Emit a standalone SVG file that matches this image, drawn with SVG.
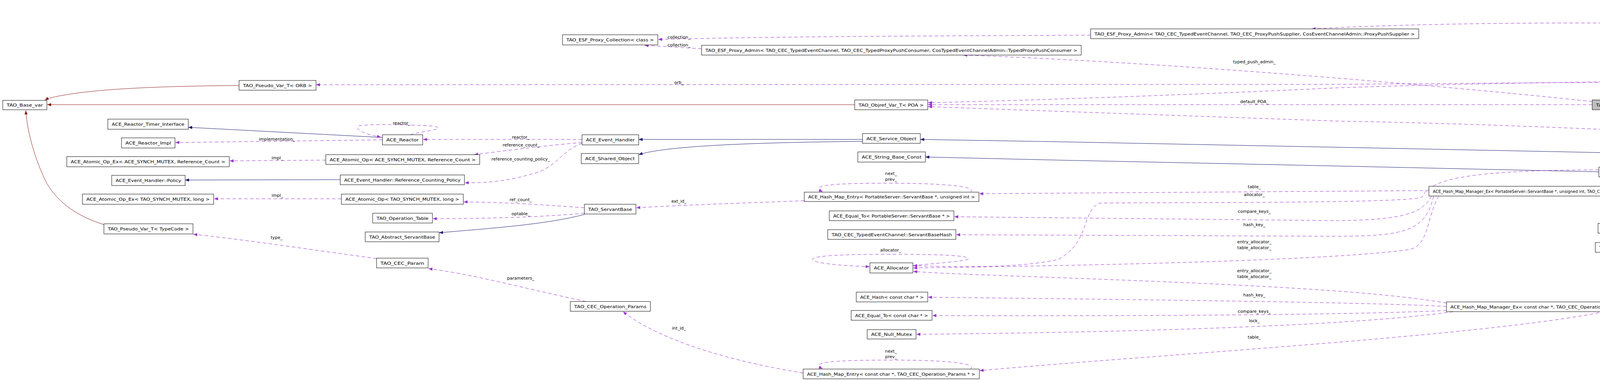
<svg xmlns="http://www.w3.org/2000/svg" width="5539" height="973" viewBox="0 0 5539 973">
<style>
.n rect{fill:#fff;stroke:#000;stroke-width:1}
.n text,.l{font-family:"DejaVu Sans",sans-serif;font-size:11px;fill:#000;text-anchor:middle}
.u{fill:none;stroke:#9a32cd;stroke-width:1;stroke-dasharray:9,6;marker-end:url(#au)}
.i{fill:none;stroke:#191970;stroke-width:1;marker-end:url(#ai)}
.t{fill:none;stroke:#8b1a1a;stroke-width:1;marker-end:url(#at)}
</style>
<defs>
<marker id="au" viewBox="0 0 10 8" refX="10" refY="4" markerWidth="10" markerHeight="8" markerUnits="userSpaceOnUse" orient="auto"><path d="M0,0L10,4L0,8z" fill="#9a32cd"/></marker>
<marker id="ai" viewBox="0 0 10 8" refX="10" refY="4" markerWidth="10" markerHeight="8" markerUnits="userSpaceOnUse" orient="auto"><path d="M0,0L10,4L0,8z" fill="#191970"/></marker>
<marker id="at" viewBox="0 0 10 8" refX="10" refY="4" markerWidth="10" markerHeight="8" markerUnits="userSpaceOnUse" orient="auto"><path d="M0,0L10,4L0,8z" fill="#8b1a1a"/></marker>
</defs>
<rect width="5539" height="973" fill="#fff"/>
<g id="edges">
<path class="t" d="M2188,268 L121,268"/>
<path class="t" d="M612,219 C450,220 300,225 200,238 C150,245 125,250 115,257"/>
<path class="t" d="M266,575 C200,555 150,520 120,470 C90,410 70,340 66,283"/>
<path class="i" d="M979,352 L482,326"/>
<path class="i" d="M871,460 L474,461"/>
<path class="i" d="M2208,357 L1635,357"/>
<path class="i" d="M2208,362 C1900,365 1700,375 1635,396"/>
<path class="i" d="M1496,549 C1400,575 1250,585 1124,596"/>
<path class="i" d="M4114,391 L3420,377 L2710,363 L2356,357"/>
<path class="i" d="M4093,440 L3420,425 L2710,410 L2369,402"/>
<path class="u" d="M5307,200 C4900,198 4500,205 4200,210 L3420,216 L809,217"/>
<path class="u" d="M2792,90 C2400,92 2000,93 1685,101"/>
<path class="u" d="M1796,125 C1750,122 1700,119 1650,116"/>
<path class="u" d="M5395,189 C5300,150 5100,110 4800,82 C4400,50 3700,55 3358,74"/>
<path class="u" d="M4076,260 C3700,220 3000,160 2466,141"/>
<path class="u" d="M4990,366 C4920,290 4800,215 4600,208 C4200,205 3700,215 3420,225 C3000,245 2600,258 2376,263"/>
<path class="u" d="M4076,268 L2376,268"/>
<path class="u" d="M4896,375 C4600,355 4000,320 3420,310 C3000,295 2700,285 2376,273"/>
<path class="u" d="M4288,262 C4600,250 4900,262 4985,368"/>
<path class="u" d="M4990,369 C4900,310 4600,285 4289,270"/>
<path class="u" d="M5040,369 C5150,320 5300,240 5380,216"/>
<path class="u" d="M5412,216 C5320,320 5200,380 5108,383"/>
<path class="u" d="M4896,378 C4700,385 4500,390 4251,391"/>
<path class="u" d="M4900,394 C4800,420 4600,445 4272,445"/>
<path class="u" d="M4910,394 C4830,450 4720,490 4640,505 L4311,504"/>
<path class="u" d="M4920,394 C4800,480 4600,540 4265,540"/>
<path class="u" d="M4930,394 C4820,530 4600,590 4275,590"/>
<path class="u" d="M4945,394 C4850,600 4700,690 4500,685 C4400,680 4300,660 4235,647"/>
<path class="u" d="M4960,394 C4920,600 4750,770 4600,800 L4284,799"/>
<path class="u" d="M3658,488 L2507,496"/>
<path class="u" d="M3665,502 C3640,545 3600,563 3420,565 L2443,555"/>
<path class="u" d="M3670,502 C3650,590 3600,605 3420,605 L2448,601"/>
<path class="u" d="M3683,502 C3650,560 3660,635 3600,640 C3400,667 2800,680 2338,686"/>
<path class="u" d="M4093,435 C3700,435 3660,470 3640,505 C3600,521 3000,518 2814,520 C2770,540 2790,620 2710,664 C2600,690 2400,682 2338,680"/>
<path class="u" d="M3703,776 C3550,750 3300,732 2710,711 C2500,703 2400,700 2338,695"/>
<path class="u" d="M3703,785 C3550,775 3000,768 2376,761"/>
<path class="u" d="M3703,795 C3500,805 3000,810 2387,808"/>
<path class="u" d="M3720,798 C3500,830 3000,850 2346,856"/>
<path class="u" d="M4108,798 C3800,860 3000,905 2508,949"/>
<path class="u" d="M2484,492 C2500,480 2450,470 2280,469 C2110,469 2075,476 2106,491"/>
<path class="u" d="M2059,514 C1900,520 1750,525 1629,532"/>
<path class="u" d="M2484,945 C2500,933 2450,922 2280,922 C2110,922 2075,930 2106,944"/>
<path class="u" d="M2056,955 C1900,930 1700,880 1595,798"/>
<path class="u" d="M2337,680 C2420,672 2480,668 2479,662 C2478,654 2400,651 2280,651 C2130,651 2078,657 2080,664 C2082,674 2150,680 2226,683"/>
<path class="u" d="M1496,532 C1400,525 1300,518 1187,517"/>
<path class="u" d="M1496,546 C1400,555 1250,560 1108,560"/>
<path class="u" d="M964,662 C800,640 600,610 495,600"/>
<path class="u" d="M1500,772 C1350,740 1200,700 1097,688"/>
<path class="u" d="M1490,357 L1083,357"/>
<path class="u" d="M1490,365 C1400,372 1300,385 1214,396"/>
<path class="u" d="M1490,367 C1440,385 1430,420 1380,440 C1300,465 1250,468 1190,468"/>
<path class="u" d="M979,358 L449,365"/>
<path class="u" d="M1050,345 C1080,335 1160,330 1100,322 C1000,318 950,318 919,322 C905,330 930,343 975,351"/>
<path class="u" d="M834,410 L588,412"/>
<path class="u" d="M874,509 L548,509"/>
<text class="l" x="709" y="360">implementation_</text>
<text class="l" x="1028" y="319">reactor_</text>
<text class="l" x="1333" y="355">reactor_</text>
<text class="l" x="1334" y="375">reference_count_</text>
<text class="l" x="1333" y="411">reference_counting_policy_</text>
<text class="l" x="710" y="408">impl_</text>
<text class="l" x="710" y="504">impl_</text>
<text class="l" x="1333" y="515">ref_count_</text>
<text class="l" x="1333" y="551">optable_</text>
<text class="l" x="1738" y="519">ext_id_</text>
<text class="l" x="708" y="612">type_</text>
<text class="l" x="1333" y="716">parameters_</text>
<text class="l" x="1738" y="844">int_id_</text>
<text class="l" x="1738" y="99">collection_</text>
<text class="l" x="1738" y="119">collection_</text>
<text class="l" x="1738" y="215">orb_</text>
<text class="l" x="2281" y="448">next_</text>
<text class="l" x="2281" y="463">prev_</text>
<text class="l" x="2281" y="903">next_</text>
<text class="l" x="2281" y="917">prev_</text>
<text class="l" x="2280" y="644">allocator_</text>
<text class="l" x="3211" y="162">typed_push_admin_</text>
<text class="l" x="3211" y="264">default_POA_</text>
<text class="l" x="3211" y="482">table_</text>
<text class="l" x="3211" y="502">allocator_</text>
<text class="l" x="3211" y="545">compare_keys_</text>
<text class="l" x="3211" y="579">hash_key_</text>
<text class="l" x="3211" y="623">entry_allocator_</text>
<text class="l" x="3211" y="638">table_allocator_</text>
<text class="l" x="3211" y="697">entry_allocator_</text>
<text class="l" x="3211" y="712">table_allocator_</text>
<text class="l" x="3211" y="759">hash_key_</text>
<text class="l" x="3211" y="801">compare_keys_</text>
<text class="l" x="3211" y="825">lock_</text>
<text class="l" x="3211" y="867">table_</text>
<text class="l" x="4181" y="303">typed_consumer_poa_</text>
<text class="l" x="4181" y="317">typed_supplier_poa_</text>
<text class="l" x="4800" y="72">typed_push_admin_</text>
<text class="l" x="4808" y="195">default_POA_</text>
<text class="l" x="4800" y="257">typed_event_channel_</text>
<text class="l" x="4800" y="299">typed_supplier_admin_</text>
<text class="l" x="4806" y="380">factory_</text>
<text class="l" x="4801" y="402">uses_interface_</text>
<text class="l" x="4801" y="417">supported_interface_</text>
<text class="l" x="4801" y="456">retry_map_</text>
<text class="l" x="4801" y="506">dispatching_</text>
<text class="l" x="4801" y="553">supplier_control_</text>
<text class="l" x="4800" y="602">consumer_control_</text>
<text class="l" x="4801" y="676">interface_description_</text>
<text class="l" x="5206" y="262">typed_consumer_admin_</text>
<text class="l" x="5206" y="340">typed_event_channel_</text>
</g>
<g id="n1" class="n"><rect x="7" y="257" width="113" height="24"/><text x="63.5" y="273" textLength="93" lengthAdjust="spacingAndGlyphs">TAO_Base_var</text></g>
<g id="n2" class="n"><rect x="612" y="206" width="197" height="25"/><text x="710.5" y="222.5" textLength="177" lengthAdjust="spacingAndGlyphs">TAO_Pseudo_Var_T&lt; ORB &gt;</text></g>
<g id="n3" class="n"><rect x="276" y="305" width="206" height="26"/><text x="379" y="322" textLength="186" lengthAdjust="spacingAndGlyphs">ACE_Reactor_Timer_Interface</text></g>
<g id="n4" class="n"><rect x="311" y="353" width="137" height="26"/><text x="379.5" y="370" textLength="117" lengthAdjust="spacingAndGlyphs">ACE_Reactor_Impl</text></g>
<g id="n5" class="n"><rect x="171" y="401" width="416" height="26"/><text x="379" y="418" textLength="396" lengthAdjust="spacingAndGlyphs">ACE_Atomic_Op_Ex&lt; ACE_SYNCH_MUTEX, Reference_Count &gt;</text></g>
<g id="n6" class="n"><rect x="286" y="449" width="188" height="26"/><text x="380" y="466" textLength="168" lengthAdjust="spacingAndGlyphs">ACE_Event_Handler::Policy</text></g>
<g id="n7" class="n"><rect x="211" y="497" width="336" height="26"/><text x="379" y="514" textLength="316" lengthAdjust="spacingAndGlyphs">ACE_Atomic_Op_Ex&lt; TAO_SYNCH_MUTEX, long &gt;</text></g>
<g id="n8" class="n"><rect x="266" y="573" width="228" height="26"/><text x="380" y="590" textLength="208" lengthAdjust="spacingAndGlyphs">TAO_Pseudo_Var_T&lt; TypeCode &gt;</text></g>
<g id="n9" class="n"><rect x="979" y="345" width="103" height="26"/><text x="1030.5" y="362" textLength="83" lengthAdjust="spacingAndGlyphs">ACE_Reactor</text></g>
<g id="n10" class="n"><rect x="834" y="396" width="394" height="25"/><text x="1031" y="412.5" textLength="374" lengthAdjust="spacingAndGlyphs">ACE_Atomic_Op&lt; ACE_SYNCH_MUTEX, Reference_Count &gt;</text></g>
<g id="n11" class="n"><rect x="871" y="448" width="318" height="25"/><text x="1030" y="464.5" textLength="298" lengthAdjust="spacingAndGlyphs">ACE_Event_Handler::Reference_Counting_Policy</text></g>
<g id="n12" class="n"><rect x="874" y="497" width="312" height="26"/><text x="1030" y="514" textLength="292" lengthAdjust="spacingAndGlyphs">ACE_Atomic_Op&lt; TAO_SYNCH_MUTEX, long &gt;</text></g>
<g id="n13" class="n"><rect x="954" y="546" width="153" height="25"/><text x="1030.5" y="562.5" textLength="133" lengthAdjust="spacingAndGlyphs">TAO_Operation_Table</text></g>
<g id="n14" class="n"><rect x="935" y="594" width="189" height="25"/><text x="1029.5" y="610.5" textLength="169" lengthAdjust="spacingAndGlyphs">TAO_Abstract_ServantBase</text></g>
<g id="n15" class="n"><rect x="964" y="661" width="132" height="25"/><text x="1030" y="677.5" textLength="112" lengthAdjust="spacingAndGlyphs">TAO_CEC_Param</text></g>
<g id="n16" class="n"><rect x="1440" y="89" width="244" height="26"/><text x="1562" y="106" textLength="224" lengthAdjust="spacingAndGlyphs">TAO_ESF_Proxy_Collection&lt; class &gt;</text></g>
<g id="n17" class="n"><rect x="1796" y="116" width="972" height="25"/><text x="2282" y="132.5" textLength="952" lengthAdjust="spacingAndGlyphs">TAO_ESF_Proxy_Admin&lt; TAO_CEC_TypedEventChannel, TAO_CEC_TypedProxyPushConsumer, CosTypedEventChannelAdmin::TypedProxyPushConsumer &gt;</text></g>
<g id="n18" class="n"><rect x="1490" y="345" width="145" height="26"/><text x="1562.5" y="362" textLength="125" lengthAdjust="spacingAndGlyphs">ACE_Event_Handler</text></g>
<g id="n19" class="n"><rect x="1488" y="393" width="147" height="26"/><text x="1561.5" y="410" textLength="127" lengthAdjust="spacingAndGlyphs">ACE_Shared_Object</text></g>
<g id="n20" class="n"><rect x="1496" y="523" width="132" height="25"/><text x="1562" y="539.5" textLength="112" lengthAdjust="spacingAndGlyphs">TAO_ServantBase</text></g>
<g id="n21" class="n"><rect x="1460" y="772" width="205" height="25"/><text x="1562.5" y="788.5" textLength="185" lengthAdjust="spacingAndGlyphs">TAO_CEC_Operation_Params</text></g>
<g id="n22" class="n"><rect x="2188" y="256" width="187" height="25"/><text x="2281.5" y="272.5" textLength="167" lengthAdjust="spacingAndGlyphs">TAO_Objref_Var_T&lt; POA &gt;</text></g>
<g id="n23" class="n"><rect x="2208" y="342" width="148" height="25"/><text x="2282" y="358.5" textLength="128" lengthAdjust="spacingAndGlyphs">ACE_Service_Object</text></g>
<g id="n24" class="n"><rect x="2196" y="389" width="173" height="26"/><text x="2282.5" y="406" textLength="153" lengthAdjust="spacingAndGlyphs">ACE_String_Base_Const</text></g>
<g id="n25" class="n"><rect x="2059" y="492" width="447" height="24"/><text x="2282.5" y="508" textLength="427" lengthAdjust="spacingAndGlyphs">ACE_Hash_Map_Entry&lt; PortableServer::ServantBase *, unsigned int &gt;</text></g>
<g id="n26" class="n"><rect x="2123" y="540" width="319" height="25"/><text x="2282.5" y="556.5" textLength="299" lengthAdjust="spacingAndGlyphs">ACE_Equal_To&lt; PortableServer::ServantBase * &gt;</text></g>
<g id="n27" class="n"><rect x="2119" y="588" width="328" height="25"/><text x="2283" y="604.5" textLength="308" lengthAdjust="spacingAndGlyphs">TAO_CEC_TypedEventChannel::ServantBaseHash</text></g>
<g id="n28" class="n"><rect x="2227" y="673" width="110" height="26"/><text x="2282" y="690" textLength="90" lengthAdjust="spacingAndGlyphs">ACE_Allocator</text></g>
<g id="n29" class="n"><rect x="2192" y="748" width="183" height="25"/><text x="2283.5" y="764.5" textLength="163" lengthAdjust="spacingAndGlyphs">ACE_Hash&lt; const char * &gt;</text></g>
<g id="n30" class="n"><rect x="2179" y="795" width="207" height="25"/><text x="2282.5" y="811.5" textLength="187" lengthAdjust="spacingAndGlyphs">ACE_Equal_To&lt; const char * &gt;</text></g>
<g id="n31" class="n"><rect x="2220" y="844" width="125" height="24"/><text x="2282.5" y="860" textLength="105" lengthAdjust="spacingAndGlyphs">ACE_Null_Mutex</text></g>
<g id="n32" class="n"><rect x="2056" y="945" width="451" height="25"/><text x="2281.5" y="961.5" textLength="431" lengthAdjust="spacingAndGlyphs">ACE_Hash_Map_Entry&lt; const char *, TAO_CEC_Operation_Params * &gt;</text></g>
<g id="n33" class="n"><rect x="2792" y="74" width="840" height="25"/><text x="3212" y="90.5" textLength="820" lengthAdjust="spacingAndGlyphs">TAO_ESF_Proxy_Admin&lt; TAO_CEC_TypedEventChannel, TAO_CEC_ProxyPushSupplier, CosEventChannelAdmin::ProxyPushSupplier &gt;</text></g>
<g id="n34" class="n"><rect x="4076" y="256" width="212" height="25" style="fill:#bfbfbf"/><text x="4182" y="272.5" textLength="192" lengthAdjust="spacingAndGlyphs">TAO_CEC_TypedSupplierAdmin</text></g>
<g id="n35" class="n"><rect x="4114" y="380" width="136" height="25"/><text x="4182" y="396.5" textLength="116" lengthAdjust="spacingAndGlyphs">TAO_CEC_Factory</text></g>
<g id="n36" class="n"><rect x="4093" y="428" width="178" height="25"/><text x="4182" y="444.5" textLength="158" lengthAdjust="spacingAndGlyphs">ACE_String_Base&lt; char &gt;</text></g>
<g id="n37" class="n"><rect x="3658" y="477" width="1049" height="25"/><text x="4182.5" y="493.5" textLength="1029" lengthAdjust="spacingAndGlyphs">ACE_Hash_Map_Manager_Ex&lt; PortableServer::ServantBase *, unsigned int, TAO_CEC_TypedEventChannel::ServantBaseHash, ACE_Equal_To&lt; PortableServer::ServantBase * &gt;, TAO_SYNCH_MUTEX &gt;</text></g>
<g id="n38" class="n"><rect x="4102" y="525" width="162" height="24"/><text x="4183" y="541" textLength="142" lengthAdjust="spacingAndGlyphs">TAO_CEC_Dispatching</text></g>
<g id="n39" class="n"><rect x="4091" y="572" width="183" height="25"/><text x="4182.5" y="588.5" textLength="163" lengthAdjust="spacingAndGlyphs">TAO_CEC_SupplierControl</text></g>
<g id="n40" class="n"><rect x="4084" y="621" width="196" height="25"/><text x="4182" y="637.5" textLength="176" lengthAdjust="spacingAndGlyphs">TAO_CEC_ConsumerControl</text></g>
<g id="n41" class="n"><rect x="3703" y="773" width="961" height="25"/><text x="4183.5" y="789.5" textLength="941" lengthAdjust="spacingAndGlyphs">ACE_Hash_Map_Manager_Ex&lt; const char *, TAO_CEC_Operation_Params *, ACE_Hash&lt; const char * &gt;, ACE_Equal_To&lt; const char * &gt;, ACE_Null_Mutex &gt;</text></g>
<g id="n42" class="n"><rect x="4896" y="369" width="211" height="25"/><text x="5001.5" y="385.5" textLength="191" lengthAdjust="spacingAndGlyphs">TAO_CEC_TypedEventChannel</text></g>
<g id="n43" class="n"><rect x="5307" y="189" width="228" height="26"/><text x="5421" y="206" textLength="208" lengthAdjust="spacingAndGlyphs">TAO_CEC_TypedConsumerAdmin</text></g>
</svg>
